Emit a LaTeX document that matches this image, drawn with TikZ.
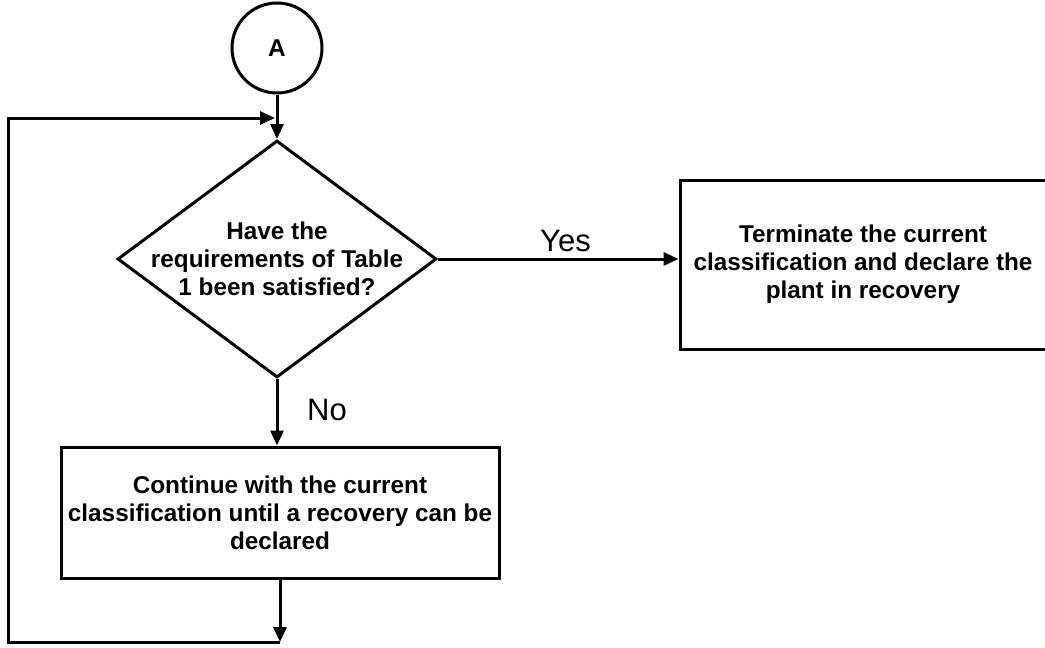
\documentclass[tikz,border=0pt]{standalone}
\usepackage{fontspec}
\setmainfont{Liberation Sans}
\usetikzlibrary{shapes.geometric,arrows.meta}
\begin{document}
\begin{tikzpicture}[x=1pt,y=-1pt,
  line width=3pt,
  arr/.style={-{Triangle[length=15pt,width=13pt]}},
  boxtxt/.style={font=\fontsize{24.3}{28}\selectfont\bfseries, align=center},
  pbox/.style={draw, rectangle, inner sep=0pt, boxtxt},
  decision/.style={draw, diamond, inner sep=0pt, minimum width=319pt, minimum height=237pt},
  conn/.style={draw, circle, inner sep=0pt, minimum size=90pt, boxtxt},
  lbl/.style={font=\fontsize{31}{36}\selectfont}
]
\useasboundingbox (0,0) rectangle (1045,648);
\node[conn] (a) at (277,48) {A};
\node[decision] (q) at (277,259) {};
\node[boxtxt] (qt) at (q.center) {Have the\\requirements of Table\\1 been satisfied?};
\node[pbox, minimum width=366pt, minimum height=169pt] (term) at (863,264.5) {Terminate the current\\classification and declare the\\plant in recovery};
\node[pbox, minimum width=438pt, minimum height=131pt] (cont) at (280,512.5) {Continue with the current\\classification until a recovery can be\\declared};
\coordinate (bot) at (280,642);
\coordinate (bl) at (8,642);
\coordinate (tl) at (8,118);
\coordinate (jn) at (275,118);
\draw[arr] (a.south) -- (q.north);
\draw[arr] (q.east) -- (q.east -| term.west) node[lbl, pos=0.53, above=2pt] (yes) {Yes};
\draw[arr] (q.south) -- (q.south |- cont.north);
\node[lbl] (no) at (327,410) {No};
\draw[arr] (cont.south) -- (bot);
\draw[arr] (bot) -- (bl) -- (tl) -- (jn);
\end{tikzpicture}
\end{document}
